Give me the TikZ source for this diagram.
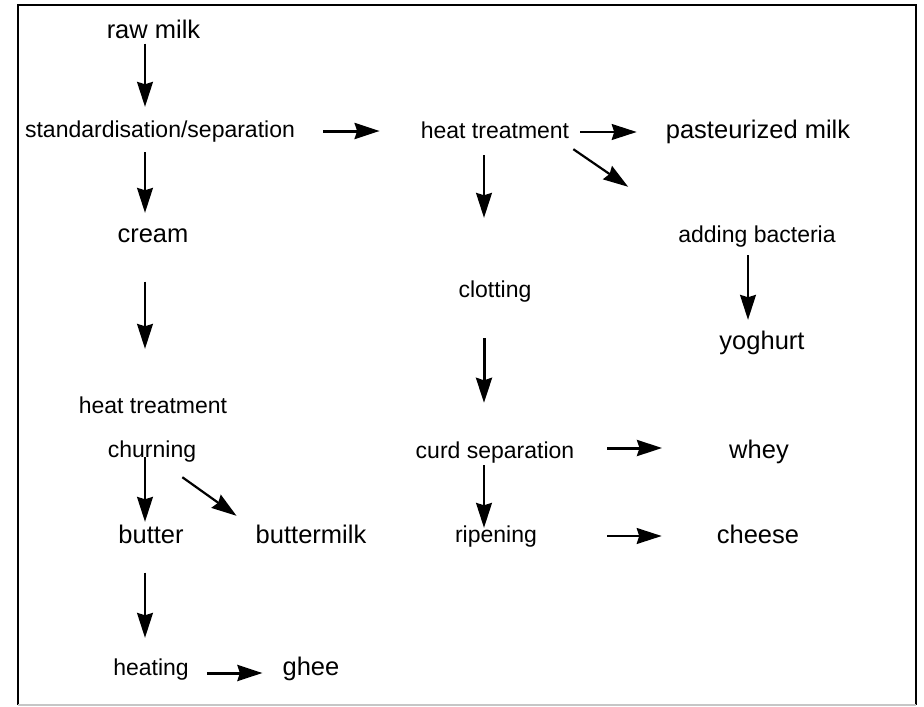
\documentclass[tikz,border=0pt]{standalone}
\usepackage{fontspec}
\setmainfont{Liberation Sans}
\usetikzlibrary{arrows.meta, calc}

\begin{document}
\begin{tikzpicture}[x=1pt, y=-1pt,
    stage/.style={anchor=base, inner sep=0pt, text height=17pt, text depth=5pt, font=\fontsize{23}{27}\selectfont},
    product/.style={anchor=base, inner sep=0pt, text height=19pt, text depth=5.5pt, font=\fontsize{25.5}{30}\selectfont},
    flow/.style={-{Stealth[length=25pt, width=16pt, inset=2.5pt]}, line width=1.6pt},
    heavy/.style={flow, line width=3pt},
    slant/.style={flow, line width=2.2pt}]
\useasboundingbox (0,0) rectangle (924,707);

% Frame
\draw[line width=2.5pt] (18,705) -- (18,5) -- (916,5) -- (916,705);
\draw[gray!45, line width=1.5pt] (18,705) -- (916,705);

% Arrow columns
\coordinate (colA) at (145,0);
\coordinate (colB) at (484,0);
\coordinate (colC) at (748,0);

% Steps and products
\node[product] (raw)     at (153.5,38) {raw milk};
\node[stage]   (std)     at (160,137)  {standardisation/separation};
\node[stage]   (heatA)   at (495,138)  {heat treatment};
\node[product] (past)    at (758,138)  {pasteurized milk};
\node[product] (cream)   at (153,242)  {cream};
\node[stage]   (adding)  at (757,242)  {adding bacteria};
\node[stage]   (clot)    at (495,297)  {clotting};
\node[product] (yog)     at (762,349)  {yoghurt};
\node[stage]   (heatB)   at (153,413)  {heat treatment};
\node[stage]   (churn)   at (152,457)  {churning};
\node[stage]   (curd)    at (495,458)  {curd separation};
\node[product] (whey)    at (759,458)  {whey};
\node[product] (butter)  at (151,543)  {butter};
\node[product] (bmilk)   at (311,543)  {buttermilk};
\node[stage]   (ripen)   at (496,542)  {ripening};
\node[product] (cheese)  at (758,543)  {cheese};
\node[stage]   (heating) at (151,675)  {heating};
\node[product] (ghee)    at (311,675)  {ghee};

% Left column
\draw[flow, shorten >=13pt] (raw.south -| colA) -- (std.north -| colA);
\draw[flow, shorten <=10pt, shorten >=10pt] (std.south -| colA) -- (cream.north -| colA);
\draw[flow, shorten <=34pt, shorten >=47pt] (cream.south -| colA) -- (heatB.north -| colA);
\draw[flow, shorten >=2pt] (churn.base -| colA) -- (butter.north -| colA);
\draw[slant] ($(churn.south east)+(-14,15)$) -- ($(bmilk.north west)+(-19,-8)$);
\draw[flow, shorten <=24pt, shorten >=20pt] (butter.south -| colA) -- (heating.north -| colA);
\draw[heavy, shorten <=18pt, shorten >=20pt] ($(heating.east)+(0,4)$) -- ($(heating.east -| ghee.west)+(0,4)$);

% Top row
\draw[heavy, shorten <=28pt, shorten >=41pt] (std.east) -- (std.east -| heatA.west);
\draw[flow, shorten <=11pt, shorten >=29pt] (heatA.east) -- (heatA.east -| past.west);
\draw[slant] ($(heatA.south east)+(4,6)$) -- ($(adding.north west)+(-50,-38)$);

% Middle column
\draw[flow, shorten <=12pt, shorten >=62pt] (heatA.south -| colB) -- (clot.north -| colB);
\draw[heavy, shorten <=36pt, shorten >=38pt] (clot.south -| colB) -- (curd.north -| colB);
\draw[heavy, shorten <=33pt, shorten >=67pt] ($(curd.east)+(0,-4)$) -- ($(curd.east -| whey.west)+(0,-4)$);
\draw[flow, shorten <=2pt, shorten >=-3pt] (curd.south -| colB) -- (ripen.north -| colB);
\draw[flow, shorten <=70pt, shorten >=55pt] (ripen.east) -- (ripen.east -| cheese.west);

% Right column
\draw[flow, shorten <=8pt, shorten >=10pt] (adding.south -| colC) -- (yog.north -| colC);
\end{tikzpicture}
\end{document}
